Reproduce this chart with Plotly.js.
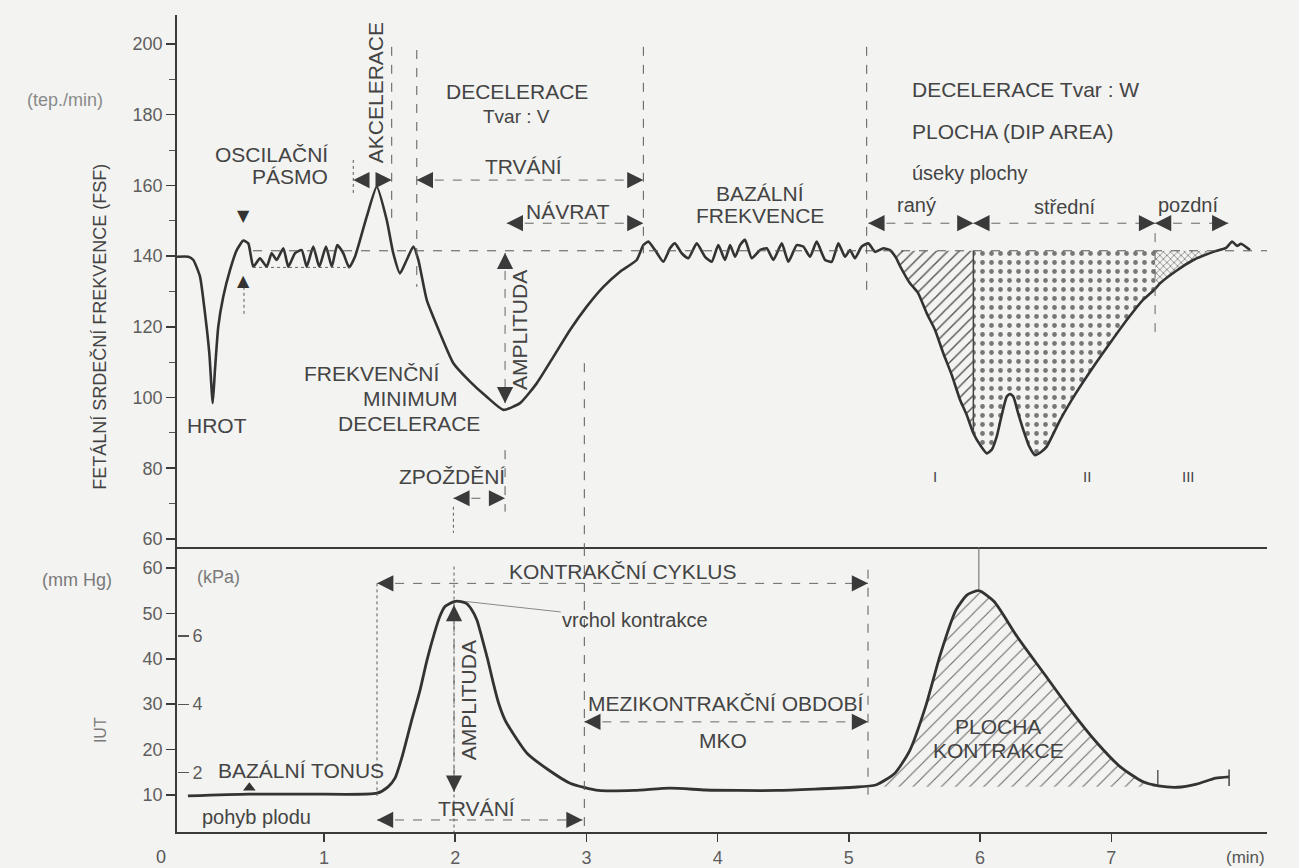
<!DOCTYPE html>
<html>
<head>
<meta charset="utf-8">
<script src="https://cdn.plot.ly/plotly-3.0.1.min.js"></script>
<style>
  html, body { margin: 0; padding: 0; background: #f3f3f1; }
  #chart { width: 1299px; height: 868px; }
</style>
</head>
<body>
<div id="chart"></div>
<script>
// ---------------- DATA ----------------
// Fetal heart rate (beats / min) against time (min)
const fhrMinutes = [-0.120,-0.034,0.004,0.055,0.093,0.126,0.152,0.169,0.194,0.232,0.284,0.335,0.385,0.423,
  0.461,0.512,0.563,0.601,0.639,0.690,0.728,0.779,0.830,0.868,0.918,0.964,1.015,1.059,1.101,1.147,1.191,1.236,
  1.325,1.402,1.478,1.528,1.579,1.630,1.681,1.719,1.783,1.884,1.986,2.113,2.240,2.367,2.494,2.621,2.748,2.875,
  3.002,3.129,3.256,3.383,3.434,3.472,3.523,3.586,3.637,3.675,3.726,3.777,3.841,3.904,3.955,4.005,4.056,4.095,
  4.133,4.171,4.209,4.260,4.323,4.374,4.425,4.489,4.539,4.603,4.653,4.704,4.755,4.819,4.870,4.920,4.971,5.009,
  5.047,5.098,5.149,5.200,5.263,5.314,5.360,5.390,5.466,5.527,5.594,5.657,5.720,5.784,5.848,5.898,5.949,6.000,
  6.051,6.089,6.127,6.165,6.203,6.229,6.254,6.290,6.330,6.373,6.419,6.465,6.508,6.610,6.732,6.864,6.991,7.118,
  7.242,7.334,7.372,7.494,7.626,7.778,7.875,7.921,7.959,7.989,8.058];
const fhrBpm = [139.8,139.8,138.9,134.2,123.8,112.5,98.4,107.8,120.0,128.5,136.1,141.7,144.4,143.6,
  137.0,139.4,137.0,140.8,138.9,142.2,137.0,140.8,141.7,137.0,142.7,137.0,142.7,137.0,143.1,140.8,136.8,139.8,
  151.1,159.6,150.2,140.8,135.1,138.9,142.7,138.9,127.6,118.2,109.7,104.5,100.2,96.5,98.4,104.0,111.5,119.1,
  125.7,131.3,135.6,138.9,143.1,144.1,141.7,138.4,142.2,143.6,140.8,139.4,143.6,139.8,138.4,143.1,138.9,143.1,
  139.8,143.1,144.6,139.4,141.7,142.2,138.9,143.6,138.4,143.1,142.7,139.8,144.1,138.9,138.4,143.6,139.8,141.7,
  139.4,142.7,143.6,141.2,142.2,141.7,139.5,137.2,132.3,129.6,123.8,119.1,112.5,106.4,99.3,95.1,89.9,86.6,
  84.2,85.2,88.9,95.0,100.2,101.0,100.2,95.6,90.8,86.3,83.7,84.6,86.1,93.6,101.3,108.7,115.4,121.9,
  127.6,130.7,132.3,135.8,138.9,141.2,142.3,144.1,142.9,143.5,141.7];

// Intra-uterine pressure (mm Hg) against time (min)
const uterineMinutes = [-0.037,0.428,0.893,1.404,1.488,1.541,1.595,1.663,1.732,1.785,1.841,1.884,1.922,1.991,
  2.044,2.085,2.128,2.166,2.204,2.249,2.288,2.331,2.380,2.440,2.547,2.712,2.875,3.093,3.365,3.637,3.909,4.157,
  4.448,4.739,5.030,5.205,5.351,5.466,5.584,5.700,5.816,5.904,5.991,6.107,6.282,6.486,6.690,6.894,7.069,7.243,
  7.360,7.505,7.651,7.796,7.898];
const uterinePressure = [9.8,10.2,10.2,10.4,11.8,13.7,18.4,25.9,33.1,39.7,45.6,49.4,51.5,52.6,
  52.6,52.2,50.7,48.5,44.6,39.7,34.9,30.2,26.5,23.6,19.2,15.5,12.6,11.0,11.0,11.5,11.1,11.0,
  11.0,11.3,11.7,12.2,14.8,19.9,29.4,41.2,50.7,54.1,55.0,52.6,44.9,36.8,28.7,21.4,16.2,12.9,
  12.0,11.7,12.4,13.7,14.0];

// fetal movement mark
const movementMinutes = [0.431];
const movementPressure = [11.6];

// reference levels
const baselineBpm = 141.5;      // basal frequency line
const oscillationLowBpm = 136.8;
const tonusBase = 11.8;         // basal tonus under the contraction area

// dip-area segments (raný / střední / pozdní)
const zoneNames  = ['I', 'II', 'III'];
const zoneStarts = [5.314, 5.949, 7.334];
const zoneEnds   = [5.949, 7.334, 7.875];
const contractionAreaFrom = 5.205;
const contractionAreaTo   = 7.360;

// ticks
const timeTicks = [1, 2, 3, 4, 5, 6, 7];
const timeTickText = ['1', '2', '3', '4', '5', '6', '7'];
const bpmTicks = [60, 80, 100, 120, 140, 160, 180, 200];
const mmHgTicks = [10, 20, 30, 40, 50, 60];
const kPaTicks = [2, 4, 6];
const MMHG_PER_KPA = 7.5;

// ---------------- STYLE ----------------
const FONT = 'Liberation Sans, Arial, Helvetica, sans-serif';
const TXT = '#444444';
const INK = '#333333';
const BG = '#f3f3f1';

const xRange = [-0.1204, 8.187];
const yTopRange = [57.7, 208.2];
const yBotRange = [1.85, 64.6];

// ---------------- TRACES ----------------
function zonePolygon(xs, ys, a, b, base) {
  const px = [], py = [];
  for (let i = 0; i < xs.length; i++) {
    if (xs[i] >= a - 1e-9 && xs[i] <= b + 1e-9) { px.push(xs[i]); py.push(ys[i]); }
  }
  px.push(b, a); py.push(base, base);
  return { px, py };
}

const zonePatterns = [
  { shape: '/', size: 8, solidity: 0.18, fgcolor: '#555' },
  { shape: '.', size: 9, solidity: 0.22, fgcolor: '#777' },
  { shape: 'x', size: 5, solidity: 0.22, fgcolor: '#555' }
];

const traces = [];
zoneNames.forEach((nm, i) => {
  const p = zonePolygon(fhrMinutes, fhrBpm, zoneStarts[i], zoneEnds[i], baselineBpm);
  traces.push({
    x: p.px, y: p.py, xaxis: 'x2', yaxis: 'y', type: 'scatter', mode: 'none',
    fill: 'toself', fillcolor: 'rgba(0,0,0,0)', hoverinfo: 'skip', showlegend: false,
    fillpattern: Object.assign({ bgcolor: 'rgba(0,0,0,0)', fillmode: 'replace' }, zonePatterns[i])
  });
});

const ca = zonePolygon(uterineMinutes, uterinePressure, contractionAreaFrom, contractionAreaTo, tonusBase);
traces.push({
  x: ca.px, y: ca.py, xaxis: 'x', yaxis: 'y2', type: 'scatter', mode: 'none',
  fill: 'toself', fillcolor: 'rgba(0,0,0,0)', hoverinfo: 'skip', showlegend: false,
  fillpattern: { shape: '/', size: 10, solidity: 0.1, fgcolor: '#666', bgcolor: 'rgba(0,0,0,0)', fillmode: 'replace' }
});

traces.push({
  x: fhrMinutes, y: fhrBpm, xaxis: 'x2', yaxis: 'y', type: 'scatter', mode: 'lines',
  line: { color: INK, width: 2.6, shape: 'spline', smoothing: 0.5 }, hoverinfo: 'skip', showlegend: false
});
traces.push({
  x: uterineMinutes, y: uterinePressure, xaxis: 'x', yaxis: 'y2', type: 'scatter', mode: 'lines',
  line: { color: INK, width: 2.8, shape: 'spline', smoothing: 0.6 }, hoverinfo: 'skip', showlegend: false
});
traces.push({
  x: movementMinutes, y: movementPressure, xaxis: 'x', yaxis: 'y2', type: 'scatter', mode: 'markers',
  marker: { symbol: 'triangle-up', size: 11, color: INK }, hoverinfo: 'skip', showlegend: false
});
// kPa scale carrier (invisible) so the kPa axis is drawn
traces.push({
  x: [xRange[0]], y: [yBotRange[0] / MMHG_PER_KPA], xaxis: 'x', yaxis: 'y3', type: 'scatter', mode: 'markers',
  marker: { opacity: 0 }, hoverinfo: 'skip', showlegend: false
});

// ---------------- SHAPES ----------------
const shapes = [];
function vline(x, y0, y1, yref, dash, w, c) {
  shapes.push({ type: 'line', xref: 'x', yref, x0: x, x1: x, y0, y1,
    line: { color: c || '#5a5a5a', width: w || 1, dash: dash || 'dash' } });
}
function hline(x0, x1, y, yref, dash, w, c) {
  shapes.push({ type: 'line', xref: 'x', yref, x0, x1, y0: y, y1: y,
    line: { color: c || '#5a5a5a', width: w || 1, dash: dash || 'dash' } });
}
// top panel guides
hline(0.459, 8.187, baselineBpm, 'y', 'dash', 1, '#555');
hline(0.459, 1.198, oscillationLowBpm, 'y', 'dot', 1, '#666');
vline(1.223, 167.2, 157.8, 'y', 'dot');
vline(1.516, 199.2, 150.2, 'y', 'dash');
vline(1.707, 198.3, 131.3, 'y', 'dash');
vline(3.434, 199.2, 140.8, 'y', 'dash');
vline(5.136, 199.2, 128.5, 'y', 'dash');
vline(2.380, 85.1, 67.7, 'y', 'dash');
vline(1.986, 69.1, 61.7, 'y', 'dot');
vline(2.984, 109.7, yTopRange[0], 'y', 'dash');
vline(0.390, 131.3, 122.8, 'y', 'dot');
vline(5.949, baselineBpm, 90.5, 'y', 'solid', 1.5, '#444');
vline(7.334, 146.5, 118.2, 'y', 'dash', 1, '#666');
// bottom panel guides
vline(1.404, 56.6, 9.8, 'y2', 'dot');
vline(1.991, 60.3, yBotRange[0], 'y2', 'dot');
vline(2.984, yBotRange[1], yBotRange[0], 'y2', 'dash');
vline(5.146, 59.6, 8.9, 'y2', 'dash');
vline(5.991, 64.6, 55.3, 'y2', 'solid', 1, '#666');
vline(7.355, 15.5, 12.2, 'y2', 'solid', 1.3, '#444');
vline(7.898, 15.6, 12.0, 'y2', 'solid', 1.5, '#444');

// ---------------- ANNOTATIONS ----------------
const ann = [];
function txt(text, x, y, yref, size, opts) {
  ann.push(Object.assign({ text, x, y, xref: 'x', yref, showarrow: false,
    font: { family: FONT, size, color: TXT }, xanchor: 'center', yanchor: 'middle' }, opts || {}));
}
function head(x, y, dir, yref) {
  const off = { left: [14, 0], right: [-14, 0], up: [0, 14], down: [0, -14] }[dir];
  ann.push({ x, y, xref: 'x', yref, ax: off[0], ay: off[1], axref: 'pixel', ayref: 'pixel',
    showarrow: true, arrowhead: 2, arrowsize: 1.8, arrowwidth: 1.8, arrowcolor: '#3a3a3a',
    text: '', standoff: 0 });
}
function hArrow(x0, x1, y, yref, shaft) {
  if (shaft !== false) hline(x0, x1, y, yref, 'dash', 1, '#666');
  head(x0, y, 'left', yref); head(x1, y, 'right', yref);
}
function vArrow(x, yTop, yBot, yref) {
  vline(x, yTop, yBot, yref, 'dash', 1, '#666');
  head(x, yTop, 'up', yref); head(x, yBot, 'down', yref);
}

// top panel
hArrow(1.223, 1.516, 161.5, 'y', false);
hArrow(1.707, 3.434, 161.5, 'y');
hArrow(2.393, 3.434, 149.3, 'y');
hArrow(1.986, 2.380, 71.5, 'y');
hArrow(5.149, 5.949, 149.3, 'y');
hArrow(5.949, 7.334, 149.3, 'y');
hArrow(7.334, 7.892, 149.3, 'y');
vArrow(2.380, 140.9, 98.4, 'y');

const BIG = 21, MID = 20;
txt('HROT', 0.182, 92.2, 'y', BIG);
txt('OSCILAČNÍ', 1.046, 168.6, 'y', BIG, { xanchor: 'right' });
txt('PÁSMO', 1.046, 162.4, 'y', BIG, { xanchor: 'right' });
txt('▼', 0.390, 151.6, 'y', 15, { font: { family: 'DejaVu Sans', size: 16, color: INK } });
txt('▲', 0.390, 133.2, 'y', 15, { font: { family: 'DejaVu Sans', size: 16, color: INK } });
txt('AKCELERACE', 1.389, 186.1, 'y', BIG, { textangle: -90 });
txt('DECELERACE', 2.469, 186.5, 'y', BIG);
txt('Tvar : V', 2.469, 179.4, 'y', 19);
txt('TRVÁNÍ', 2.517, 165.3, 'y', BIG);
txt('NÁVRAT', 2.862, 152.6, 'y', BIG);
txt('AMPLITUDA', 2.494, 119.1, 'y', BIG, { textangle: -90 });
txt('FREKVENČNÍ', 1.364, 106.8, 'y', BIG);
txt('MINIMUM', 1.655, 99.8, 'y', BIG);
txt('DECELERACE', 1.649, 92.7, 'y', BIG);
txt('ZPOŽDĚNÍ', 1.979, 77.6, 'y', BIG);
txt('BAZÁLNÍ', 4.323, 157.8, 'y', BIG);
txt('FREKVENCE', 4.323, 151.6, 'y', BIG);
txt('DECELERACE Tvar : W', 5.466, 187.0, 'y', BIG, { xanchor: 'left' });
txt('PLOCHA (DIP AREA)', 5.466, 175.2, 'y', BIG, { xanchor: 'left' });
txt('úseky plochy', 5.466, 163.4, 'y', MID, { xanchor: 'left' });
txt('raný', 5.517, 154.5, 'y', MID);
txt('střední', 6.648, 154.0, 'y', MID);
txt('pozdní', 7.588, 154.5, 'y', MID);
const zoneLabelX = [5.657, 6.813, 7.588];
zoneNames.forEach((nm, i) => txt(nm, zoneLabelX[i], 77.6, 'y', 15));

// axis side texts
ann.push({ text: 'FETÁLNÍ SRDEČNÍ FREKVENCE (FSF)', x: -0.0706, y: 120, xref: 'paper', yref: 'y',
  textangle: -90, showarrow: false, font: { family: FONT, size: 18, color: TXT }, xanchor: 'center', yanchor: 'middle' });
ann.push({ text: '(tep./min)', x: -0.1028, y: 184.2, xref: 'paper', yref: 'y', showarrow: false,
  font: { family: FONT, size: 18, color: '#8a8a8a' }, xanchor: 'center', yanchor: 'middle' });
ann.push({ text: '(mm Hg)', x: -0.0922, y: 57.4, xref: 'paper', yref: 'y2', showarrow: false,
  font: { family: FONT, size: 18, color: '#7a7a7a' }, xanchor: 'center', yanchor: 'middle' });
ann.push({ text: 'IUT', x: -0.0706, y: 24.3, xref: 'paper', yref: 'y2', textangle: -90, showarrow: false,
  font: { family: FONT, size: 16, color: '#7a7a7a' }, xanchor: 'center', yanchor: 'middle' });
ann.push({ text: '0', x: -0.0147, y: -0.0306, xref: 'paper', yref: 'paper', showarrow: false,
  font: { family: FONT, size: 18, color: '#555' }, xanchor: 'center', yanchor: 'middle' });
ann.push({ text: '(min)', x: 0.9807, y: -0.0306, xref: 'paper', yref: 'paper', showarrow: false,
  font: { family: FONT, size: 17, color: '#555' }, xanchor: 'center', yanchor: 'middle' });

// bottom panel
hArrow(1.405, 5.146, 56.6, 'y2');
hArrow(2.984, 5.146, 26.1, 'y2');
hArrow(1.404, 2.970, 4.5, 'y2');
vArrow(1.991, 51.85, 10.7, 'y2');

txt('(kPa)', 0.0168, 58.0, 'y2', 18, { xanchor: 'left', font: { family: FONT, size: 18, color: '#7a7a7a' } });
txt('KONTRAKČNÍ CYKLUS', 3.277, 59.2, 'y2', BIG);
ann.push({ text: 'vrchol kontrakce', x: 2.082, y: 52.6, xref: 'x', yref: 'y2', ax: 3.372, ay: 48.5,
  axref: 'x', ayref: 'y2', showarrow: true, arrowhead: 0, arrowwidth: 1, arrowcolor: '#888',
  font: { family: FONT, size: 20, color: TXT } });
txt('AMPLITUDA', 2.099, 30.9, 'y2', BIG, { textangle: -90 });
txt('BAZÁLNÍ TONUS', 0.180, 15.5, 'y2', BIG, { xanchor: 'left' });
txt('pohyb plodu', 0.055, 5.2, 'y2', MID, { xanchor: 'left' });
txt('TRVÁNÍ', 2.166, 7.1, 'y2', BIG);
txt('MEZIKONTRAKČNÍ OBDOBÍ', 4.064, 30.2, 'y2', BIG);
txt('MKO', 4.041, 22.1, 'y2', BIG);
txt('PLOCHA', 6.137, 25.0, 'y2', BIG);
txt('KONTRAKCE', 6.137, 19.9, 'y2', BIG);

// ---------------- LAYOUT ----------------
const splitFrac = 0.3488;
const axisFont = { family: FONT, size: 18, color: '#5e5e5e' };
const layout = {
  width: 1299, height: 868,
  margin: { l: 177, r: 32, t: 15, b: 36 },
  paper_bgcolor: BG, plot_bgcolor: BG,
  showlegend: false,
  font: { family: FONT, color: TXT },
  xaxis: {
    domain: [0, 1], anchor: 'y2', range: xRange, showgrid: false, zeroline: false,
    showline: true, linecolor: '#3a3a3a', linewidth: 2,
    tickmode: 'array', tickvals: timeTicks, ticktext: timeTickText,
    ticks: 'outside', ticklen: 8, tickcolor: '#3a3a3a', tickwidth: 1.5, tickfont: axisFont
  },
  xaxis2: {
    domain: [0, 1], anchor: 'y', matches: 'x', range: xRange, showgrid: false, zeroline: false,
    showline: true, linecolor: '#3a3a3a', linewidth: 2, showticklabels: false, ticks: ''
  },
  yaxis: {
    domain: [splitFrac, 1], anchor: 'x2', range: yTopRange, showgrid: false, zeroline: false,
    showline: true, linecolor: '#3a3a3a', linewidth: 1.8,
    tickmode: 'array', tickvals: bpmTicks, ticks: 'outside', ticklen: 9, tickwidth: 1.5, tickcolor: '#3a3a3a',
    minor: { dtick: 10, tick0: 60, ticks: 'outside', ticklen: 6, tickcolor: '#555', tickwidth: 1 },
    tickfont: axisFont
  },
  yaxis2: {
    domain: [0, splitFrac], anchor: 'x', range: yBotRange, showgrid: false, zeroline: false,
    showline: true, linecolor: '#3a3a3a', linewidth: 1.8,
    tickmode: 'array', tickvals: mmHgTicks, ticks: 'outside', ticklen: 9, tickwidth: 1.5, tickcolor: '#3a3a3a',
    tickfont: axisFont
  },
  yaxis3: {
    overlaying: 'y2', anchor: 'free', position: 0, side: 'right',
    range: [yBotRange[0] / MMHG_PER_KPA, yBotRange[1] / MMHG_PER_KPA],
    showgrid: false, zeroline: false, showline: false,
    tickmode: 'array', tickvals: kPaTicks, ticks: 'outside', ticklen: 11, tickwidth: 1.3, tickcolor: '#555',
    tickfont: axisFont
  },
  shapes: shapes,
  annotations: ann
};

Plotly.newPlot('chart', traces, layout, { displayModeBar: false, staticPlot: true });
</script>
</body>
</html>
